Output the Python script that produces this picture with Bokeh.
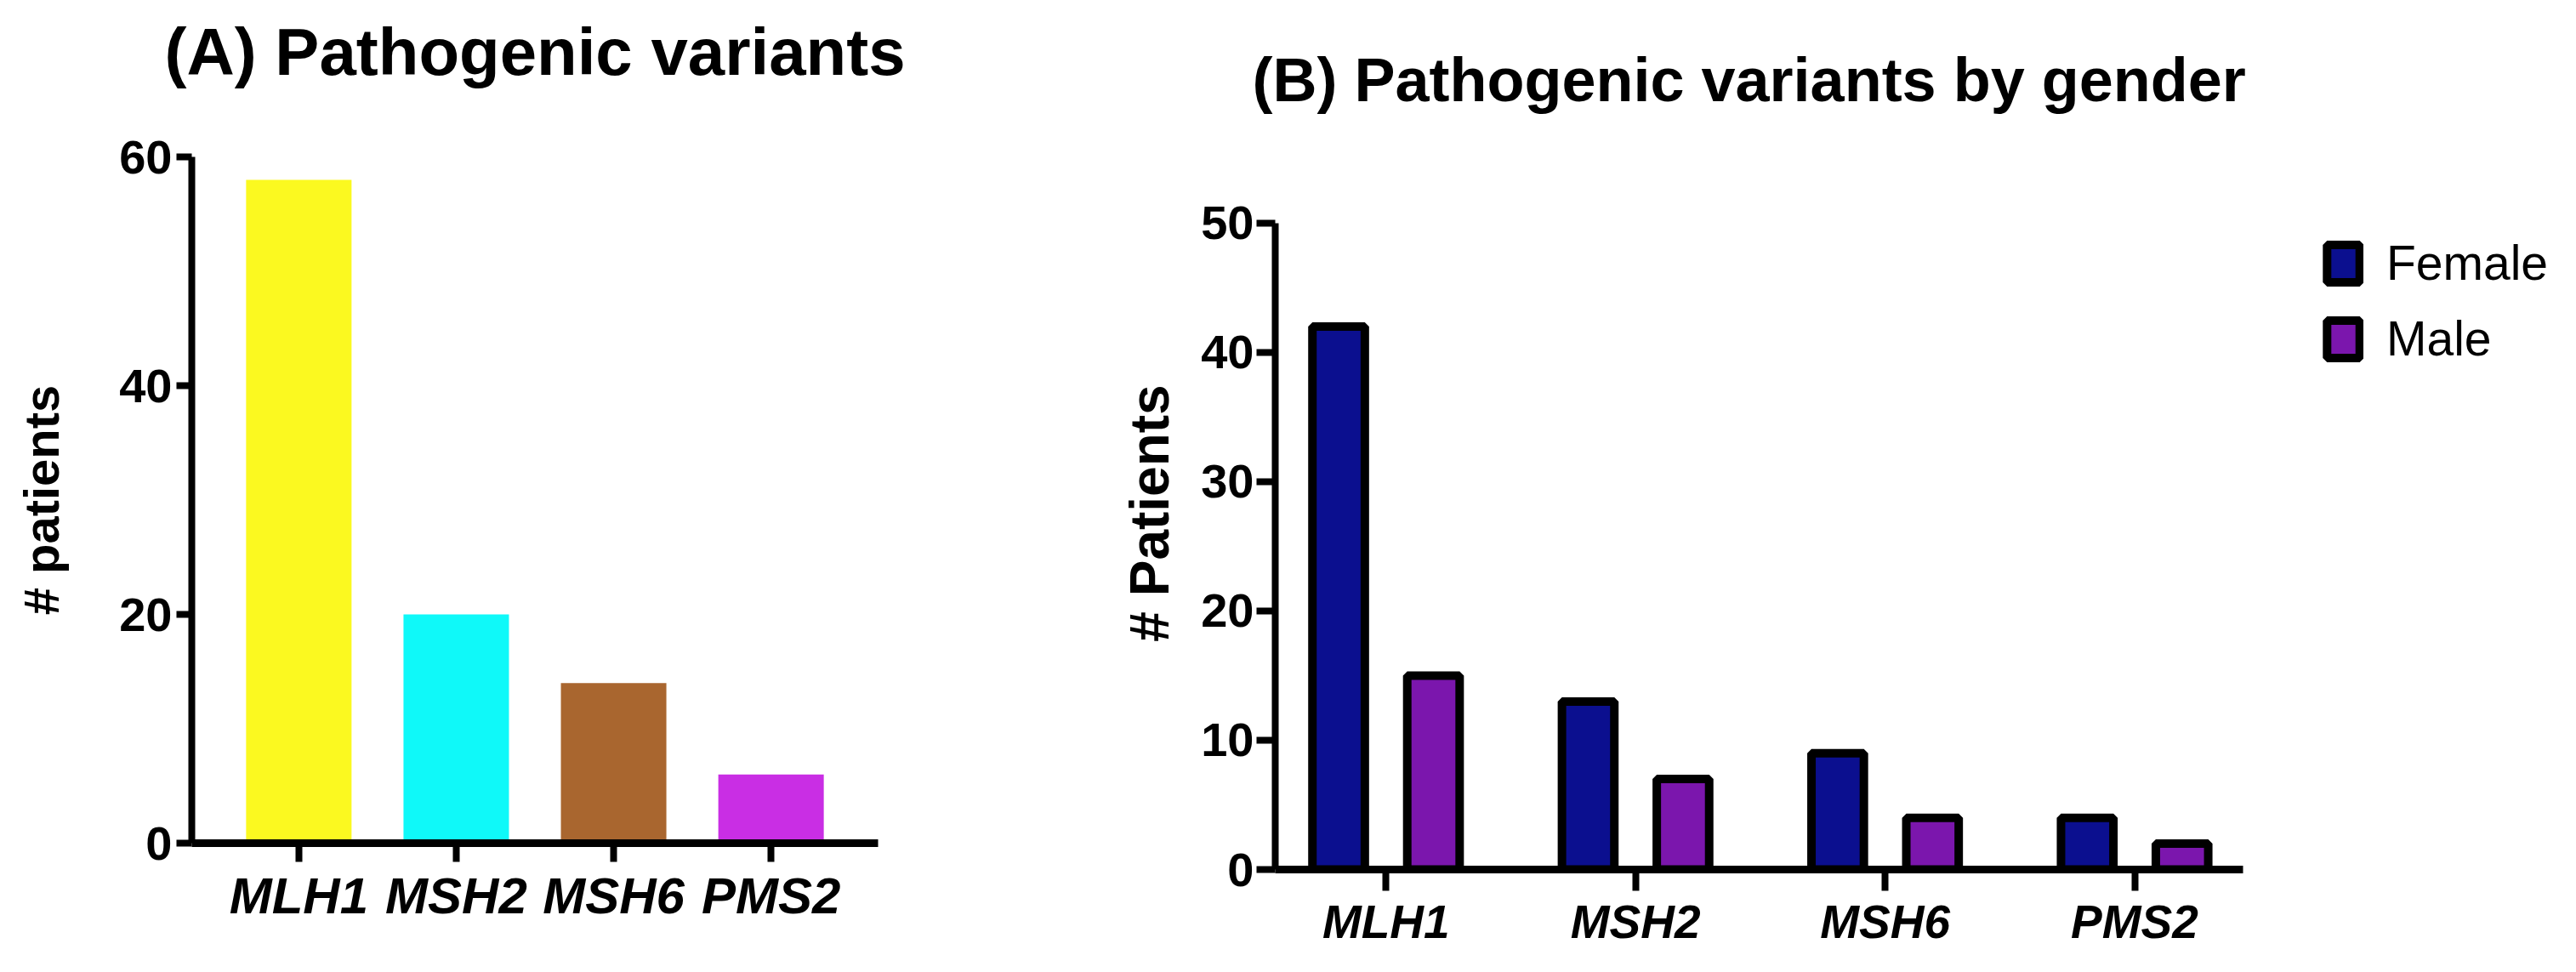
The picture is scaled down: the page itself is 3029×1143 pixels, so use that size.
from bokeh.plotting import figure
from bokeh.models import (Range1d, FixedTicker, ColumnDataSource, Legend, LegendItem,
                          LinearAxis)
from bokeh.transform import dodge
from bokeh.layouts import row
from bokeh.embed import file_html
from bokeh.resources import INLINE

# ---- data ----
genes = ["MLH1", "MSH2", "MSH6", "PMS2"]
patients = [58, 20, 14, 6]
female = [42, 13, 9, 4]
male = [15, 7, 4, 2]
bar_colors = ["#fbf920", "#0ff9f9", "#a9662f", "#c92ee4"]
ticks_a = [0, 20, 40, 60]
ticks_b = [0, 10, 20, 30, 40, 50]
title_a = "(A) Pathogenic variants"
title_b = "(B) Pathogenic variants by gender"
ylabel_a = "# patients"
ylabel_b = "# Patients"

FONT = "Liberation Sans"
idx = list(range(len(genes)))
labels = dict(zip(idx, genes))


def style(p, yticks, ybounds, xbounds, ytick_out, xtick_out, ylabel, ylab_size,
          ylab_standoff, ytick_size, xlab_size, ystand, xstand):
    p.xgrid.visible = False
    p.ygrid.visible = False
    p.outline_line_color = None
    for ax in (p.xaxis[0], p.yaxis[0]):
        ax.axis_line_width = 8
        ax.axis_line_color = "black"
        ax.major_tick_line_width = 8
        ax.major_tick_line_color = "black"
        ax.major_tick_in = 0
        ax.minor_tick_line_color = None
        ax.major_label_text_font = FONT
        ax.major_label_text_color = "black"
    p.xaxis[0].axis_line_width = 9
    p.xaxis[0].bounds = xbounds
    p.yaxis[0].bounds = ybounds
    p.yaxis[0].ticker = FixedTicker(ticks=yticks)
    p.yaxis[0].major_tick_out = ytick_out
    p.yaxis[0].major_label_text_font_size = ytick_size
    p.yaxis[0].major_label_text_font_style = "bold"
    p.yaxis[0].major_label_standoff = ystand
    p.yaxis[0].axis_label = ylabel
    p.yaxis[0].axis_label_text_font = FONT
    p.yaxis[0].axis_label_text_font_size = ylab_size
    p.yaxis[0].axis_label_text_font_style = "bold"
    p.yaxis[0].axis_label_text_color = "black"
    p.yaxis[0].axis_label_standoff = ylab_standoff
    p.xaxis[0].ticker = FixedTicker(ticks=idx)
    p.xaxis[0].major_label_overrides = labels
    p.xaxis[0].major_tick_out = xtick_out
    p.xaxis[0].major_label_text_font_size = xlab_size
    p.xaxis[0].major_label_text_font_style = "bold italic"
    p.xaxis[0].major_label_standoff = xstand


# ---- panel A ----
srcA = ColumnDataSource(dict(idx=idx, genes=genes, patients=patients, color=bar_colors))
pA = figure(width=1300, height=1096, output_backend="svg", toolbar_location=None,
            x_range=Range1d(-0.68, len(genes) - 1 + 0.68), y_range=Range1d(0, 60),
            min_border_left=225, min_border_right=268, min_border_top=184, min_border_bottom=105,
            background_fill_color="white", border_fill_color="white")
pA.title.visible = False
pA.vbar(x="idx", top="patients", width=0.67, fill_color="color", line_color=None, source=srcA)
style(pA, ticks_a, (0, 60), (-0.68, len(genes) - 1 + 0.68), 18, 22, ylabel_a, "58px", 56,
      "56px", "60px", 5, 6)
# a bare axis above the frame carries the panel title as its label
title_axis = LinearAxis(ticker=FixedTicker(ticks=[]), axis_line_color=None,
                        major_tick_line_color=None, minor_tick_line_color=None,
                        major_tick_out=0, major_tick_in=0, minor_tick_out=0,
                        axis_label=title_a, axis_label_text_font=FONT,
                        axis_label_text_font_size="78px", axis_label_text_font_style="bold",
                        axis_label_text_color="black", axis_label_standoff=80)
pA.add_layout(title_axis, "above")

# ---- panel B ----
srcB = ColumnDataSource(dict(idx=idx, genes=genes, female=female, male=male))
pB = figure(width=1713, height=1127, output_backend="svg", toolbar_location=None,
            x_range=Range1d(-0.444, 4.716), y_range=Range1d(0, 55.13),
            min_border_left=199, min_border_right=0, min_border_top=184, min_border_bottom=105,
            background_fill_color="white", border_fill_color="white")
rf = pB.vbar(x=dodge("idx", -0.19), top="female", width=0.21, fill_color="#0b0f8f",
             line_color="black", line_width=10, source=srcB)
rm = pB.vbar(x=dodge("idx", 0.19), top="male", width=0.21, fill_color="#7b16ad",
             line_color="black", line_width=10, source=srcB)
style(pB, ticks_b, (0, 50), (-0.444, len(genes) - 1 + 0.434), 22, 25, ylabel_b, "64px", 21,
      "56px", "55px", 3, 5)
pB.title.text = title_b
pB.title.text_font = FONT
pB.title.text_font_size = "72px"
pB.title.text_font_style = "bold"
pB.title.text_color = "black"
pB.title.align = "left"
pB.title.offset = -27
pB.title.standoff = 102

legend = Legend(items=[LegendItem(label="Female", renderers=[rf]),
                       LegendItem(label="Male", renderers=[rm])],
                location=(1232, 591), orientation="vertical",
                glyph_width=48, glyph_height=55, label_standoff=27, spacing=23,
                padding=0, margin=0, border_line_color=None, background_fill_alpha=0,
                label_text_font=FONT, label_text_font_size="57px", label_text_color="black")
pB.add_layout(legend, "center")

layout = row(pA, pB)
open("out.html", "w").write(file_html(layout, INLINE))
